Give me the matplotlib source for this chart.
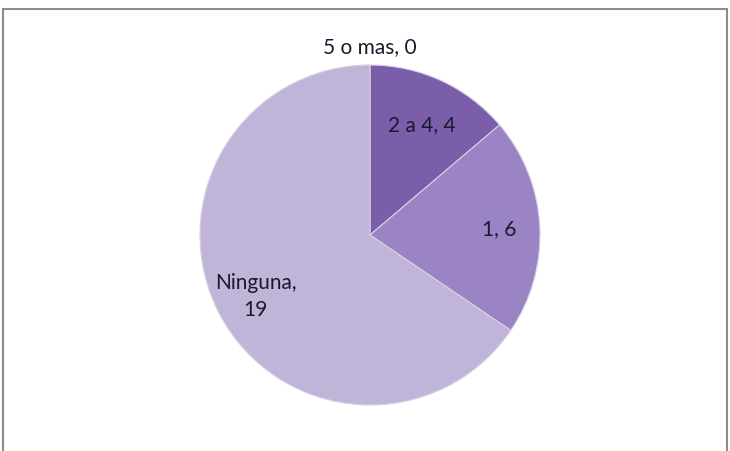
import numpy as np
import matplotlib.pyplot as plt
from matplotlib.patches import Rectangle

categorias = ['5 o mas', '2 a 4', '1', 'Ninguna']
valores = [0, 4, 6, 19]
colores = ['#5a3f86', '#7b5eaa', '#9a84c3', '#c0b4d8']

plt.rcParams['font.family'] = ['Lato', 'DejaVu Sans']

fig = plt.figure(figsize=(7.30, 4.52), dpi=100)
ax = fig.add_axes([0, 0, 1, 1])

# marco gris del grafico
fig.patches.append(Rectangle((3 / 730, -0.05), 724 / 730, 1.05 - 10 / 452,
                             transform=fig.transFigure, fill=False,
                             edgecolor='#8c8c8c', linewidth=1.5))

centro = (370, 452 - 236)
radio = 170
wedges, _ = ax.pie(valores, colors=colores, startangle=90, counterclock=False,
                   center=centro, radius=radio, frame=True,
                   wedgeprops=dict(edgecolor='#d8d0e6', linewidth=0.8))
ax.set_xlim(0, 730)
ax.set_ylim(0, 452)
ax.set_aspect('equal')
ax.axis('off')

total = sum(valores)
angulo = 90.0
distancias = [1.11, 0.72, 0.76, 0.76]
for cat, val, d in zip(categorias, valores, distancias):
    paso = val / total * 360
    medio = np.deg2rad(angulo - paso / 2)
    angulo -= paso
    x = centro[0] + d * radio * np.cos(medio)
    y = centro[1] + d * radio * np.sin(medio)
    if cat == 'Ninguna':
        texto = f'{cat},\n{val}'
    else:
        texto = f'{cat}, {val}'
    ax.text(x, y, texto, ha='center', va='center', fontsize=15,
            color='#1a1a2e', linespacing=1.45)

plt.savefig('out.png', dpi=100)
